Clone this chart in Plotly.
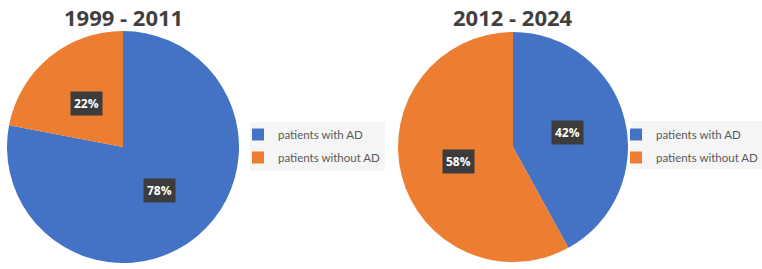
import math
import plotly.graph_objects as go

categories = ["patients with AD", "patients without AD"]
period_titles = ["1999 - 2011", "2012 - 2024"]
values_1999_2011 = [78, 22]
values_2012_2024 = [42, 58]

colors = ["#4472C4", "#ED7D31"]
W, H = 762, 269
radii = [116, 115]
centers = [(123, 147), (513, 147)]
label_frac = 0.49
legend_marker_x = [258, 636]
legend_boxes = [(250, 122, 385, 171), (631, 121, 762, 169)]

fig = go.Figure()
annotations = []
shapes = []
for i, (vals, title) in enumerate(zip([values_1999_2011, values_2012_2024], period_titles)):
    cx, cy = centers[i]
    R = radii[i]
    dom_x = [(cx - R) / W, (cx + R) / W]
    dom_y = [1 - (cy + R) / H, 1 - (cy - R) / H]
    fig.add_trace(go.Pie(
        labels=categories, values=vals, sort=False, direction="clockwise", rotation=0,
        marker=dict(colors=colors, line=dict(width=0)),
        textinfo="none", hoverinfo="label+percent", showlegend=False,
        domain=dict(x=dom_x, y=dom_y),
    ))
    # legend entries (one per category) in this chart's own legend
    lg = "legend" if i == 0 else "legend2"
    for j, cat in enumerate(categories):
        fig.add_trace(go.Scatter(
            x=[None], y=[None], mode="markers", name=cat,
            marker=dict(symbol="square", size=7, color=colors[j]),
            legend=lg, legendgroup=f"{lg}-{j}", showlegend=True, hoverinfo="skip",
        ))
    annotations.append(dict(text=f"<b>{title}</b>", x=cx / W, y=1, xref="paper", yref="paper",
                            showarrow=False, font=dict(size=22, color="#404040", family="Open Sans"),
                            xanchor="center", yanchor="top"))
    total = sum(vals)
    start = 0.0
    for j, v in enumerate(vals):
        frac = v / total
        mid = (start + frac / 2) * 2 * math.pi
        start += frac
        d = label_frac * R
        lx = cx + d * math.sin(mid)
        ly = cy - d * math.cos(mid)
        annotations.append(dict(text=f"<b>{round(frac*100)}%</b>", x=lx / W, y=1 - ly / H,
                                xref="paper", yref="paper", showarrow=False,
                                font=dict(size=12, color="white", family="Open Sans"),
                                bgcolor="#3C3C3C", borderpad=3, xanchor="center", yanchor="middle"))
    x0, y0, x1, y1 = legend_boxes[i]
    shapes.append(dict(type="rect", xref="paper", yref="paper", x0=x0 / W, x1=x1 / W,
                       y0=1 - y1 / H, y1=1 - y0 / H, fillcolor="#F5F5F5", line=dict(width=0),
                       layer="below"))

legend_style = dict(bgcolor="rgba(0,0,0,0)", font=dict(size=11.5, color="#595959", family="Lato"),
                    xref="paper", yref="paper", xanchor="left", yanchor="middle",
                    itemsizing="constant", tracegroupgap=4, traceorder="grouped",
                    y=1 - 146 / H)
fig.update_layout(
    width=W, height=H, margin=dict(l=0, r=0, t=0, b=0, autoexpand=False),
    paper_bgcolor="white", plot_bgcolor="rgba(0,0,0,0)",
    xaxis=dict(visible=False), yaxis=dict(visible=False),
    annotations=annotations, shapes=shapes,
    legend=dict(x=(legend_marker_x[0] - 20) / W, **legend_style),
    legend2=dict(x=(legend_marker_x[1] - 20) / W, **legend_style),
)
fig.write_html("out.html", config={"displayModeBar": False},
               post_script="document.body.style.margin='0px';")
